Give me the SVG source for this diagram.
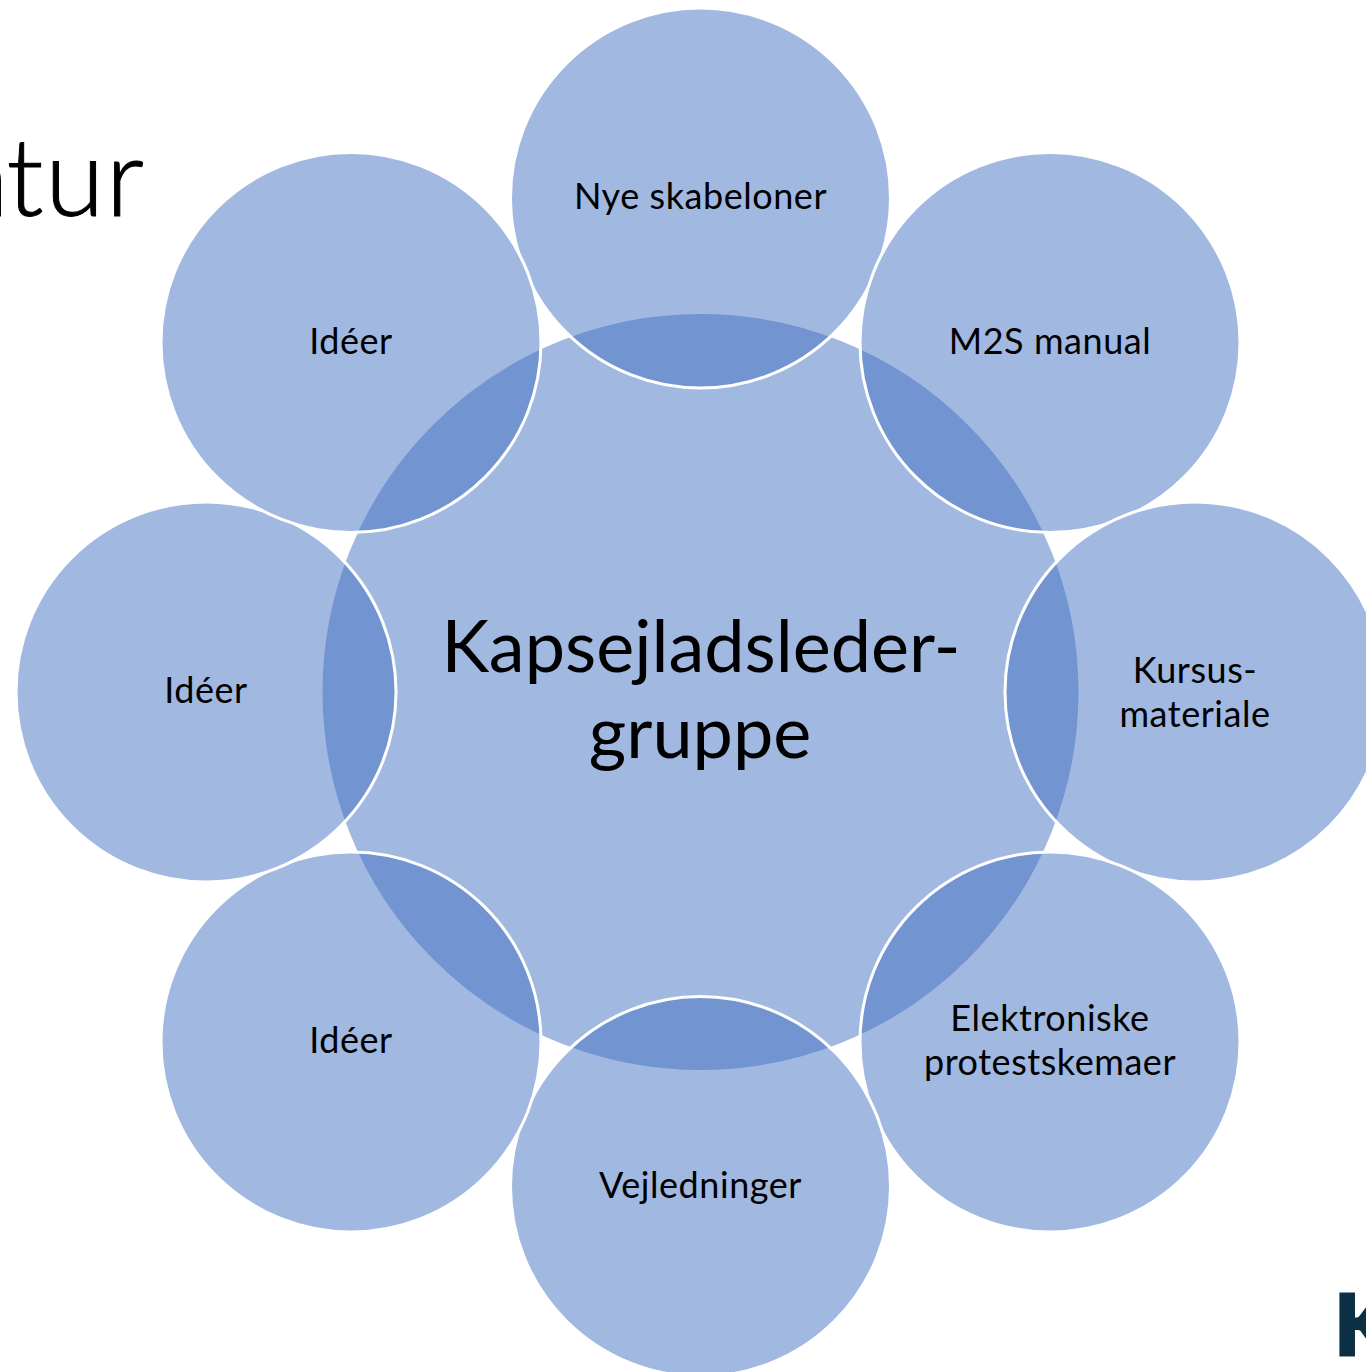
<svg xmlns="http://www.w3.org/2000/svg" width="1366" height="1372" viewBox="0 0 1366 1372">
<style>
.c{fill:#4472C4;fill-opacity:.5;stroke:#fff;stroke-width:3}
.t{font-family:"Lato","Carlito","Noto Sans",sans-serif;font-size:36px;letter-spacing:.55px;fill:#000;text-anchor:middle}
.m{font-family:"Lato","Carlito","Noto Sans",sans-serif;font-size:72px;fill:#000;text-anchor:middle}
</style>
<rect width="1366" height="1372" fill="#fff"/>
<g id="title"><text y="216" stroke="#000" stroke-width="1" style="font-family:Lato,'Noto Sans',sans-serif;font-weight:300;font-size:108px" fill="#000"><tspan x="-43.500">a</tspan><tspan x="6.500" letter-spacing="1.5">tur</tspan></text></g>
<g id="logo"><text x="1334.500" y="1354.500" stroke="#0B2F44" stroke-width="3" style="font-family:Lato,'Noto Sans',sans-serif;font-weight:900;font-size:84px" fill="#0B2F44">K</text></g>
<g id="connectors"></g>
<g id="center"><circle class="c" cx="700.5" cy="692" r="379.500"/><text class="m" x="701" y="672">Kapsejladsleder-</text><text class="m" x="700" y="758">gruppe</text></g>
<g id="n1"><circle class="c" cx="700.5" cy="198" r="190"/><text class="t" x="700.5" y="209">Nye skabeloner</text></g>
<g id="n2"><circle class="c" cx="1050" cy="342.500" r="190"/><text class="t" x="1050" y="354">M2S manual</text></g>
<g id="n3"><circle class="c" cx="1195" cy="692" r="190"/><text class="t" x="1195" y="682.500">Kursus-</text><text class="t" x="1195" y="726.500">materiale</text></g>
<g id="n4"><circle class="c" cx="1050" cy="1042" r="190"/><text class="t" x="1050" y="1031">Elektroniske</text><text class="t" x="1050" y="1075">protestskemaer</text></g>
<g id="n5"><circle class="c" cx="700.5" cy="1186.500" r="190"/><text class="t" x="700.5" y="1198">Vejledninger</text></g>
<g id="n6"><circle class="c" cx="351" cy="1042" r="190"/><text class="t" x="351" y="1053">Idéer</text></g>
<g id="n7"><circle class="c" cx="206" cy="692" r="190"/><text class="t" x="206" y="703">Idéer</text></g>
<g id="n8"><circle class="c" cx="351" cy="342.500" r="190"/><text class="t" x="351" y="354">Idéer</text></g>
</svg>
